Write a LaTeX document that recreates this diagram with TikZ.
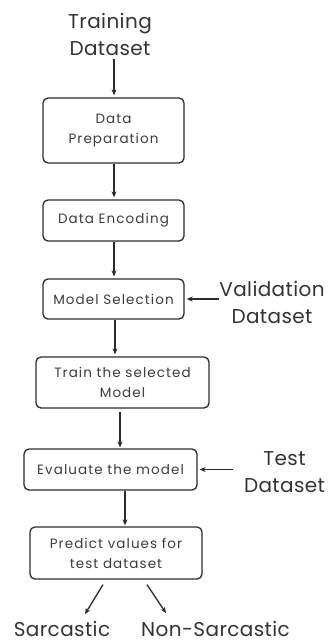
\documentclass[tikz,border=0pt]{standalone}
\usepackage{fontspec}
\setmainfont{Poppins}
\newfontfamily\stagefont{Poppins}[LetterSpace=8]
\newfontfamily\datafont{Poppins}[LetterSpace=2]
\usetikzlibrary{arrows.meta}
\definecolor{boxline}{HTML}{2B2B2B}
\definecolor{boxtext}{HTML}{3C3C3C}
\definecolor{outtext}{HTML}{333333}
\tikzset{
    stagebox/.style={draw=boxline,line width=1.3pt,rounded corners=5pt,text=boxtext,
        font=\stagefont\fontsize{13.5}{20}\selectfont,align=center,inner sep=0pt},
    datatext/.style={text=outtext,font=\datafont\fontsize{20}{27}\selectfont,align=center,inner sep=0pt},
    flow/.style={-{Stealth[length=6pt,width=5pt]},line width=1.3pt,draw=boxline}
}
\begin{document}
\begin{tikzpicture}[x=1pt,y=-1pt]
    \useasboundingbox (0,0) rectangle (330,642);
    % inputs
    \node[datatext] (trainset) at (110,34) {Training\\Dataset};
    \node[datatext] (valset) at (272,302) {Validation\\Dataset};
    \node[datatext] (testset) at (284.5,472) {Test\\Dataset};
    % stages
    \node[stagebox,minimum width=141pt,minimum height=65pt] (prep) at (113.5,130.5) {Data\\Preparation};
    \node[stagebox,minimum width=141pt,minimum height=41pt] (enc) at (113.5,220.5) {Data Encoding};
    \node[stagebox,minimum width=141pt,minimum height=40pt] (sel) at (113.5,299) {Model Selection};
    \node[stagebox,minimum width=173pt,minimum height=51pt] (train) at (122.5,382.5) {Train the selected\\Model};
    \node[stagebox,minimum width=173pt,minimum height=41pt] (eval) at (110.5,469.5) {Evaluate the model};
    \node[stagebox,minimum width=172pt,minimum height=52pt] (predict) at (116,553) {Predict values for\\test dataset};
    % outputs
    \node[datatext] (sarc) at (62,629) {Sarcastic};
    \node[datatext] (nonsarc) at (215.5,629) {Non-Sarcastic};
    % arrows
    \draw[flow,shorten <=4pt,shorten >=2pt] ([xshift=4pt]trainset.south) -- ([xshift=0.5pt]prep.north);
    \draw[flow,shorten >=2pt] ([xshift=0.5pt]prep.south) -- ([xshift=0.5pt]enc.north);
    \draw[flow,shorten >=2pt] ([xshift=0.5pt]enc.south) -- ([xshift=0.5pt]sel.north);
    \draw[flow,shorten >=2pt] ([xshift=1.5pt]sel.south) -- ([xshift=1.5pt]sel.south |- train.north);
    \draw[flow,shorten <=3pt,shorten >=1pt] ([xshift=-2.5pt]train.south) -- ([xshift=-2.5pt]train.south |- eval.north);
    \draw[flow,shorten >=1pt] ([xshift=14.5pt]eval.south) -- ([xshift=14.5pt]eval.south |- predict.north);
    \draw[flow,shorten >=2pt] (sel.east -| valset.west) -- (sel.east);
    \draw[flow,shorten <=11pt,shorten >=2pt] (eval.east -| testset.west) -- (eval.east);
    \draw[flow] ([shift={(-13,5)}]predict.south) -- ([shift={(23,-7)}]sarc.north);
    \draw[flow] ([shift={(31,5)}]predict.south) -- ([shift={(-49.5,-8)}]nonsarc.north);
\end{tikzpicture}
\end{document}
